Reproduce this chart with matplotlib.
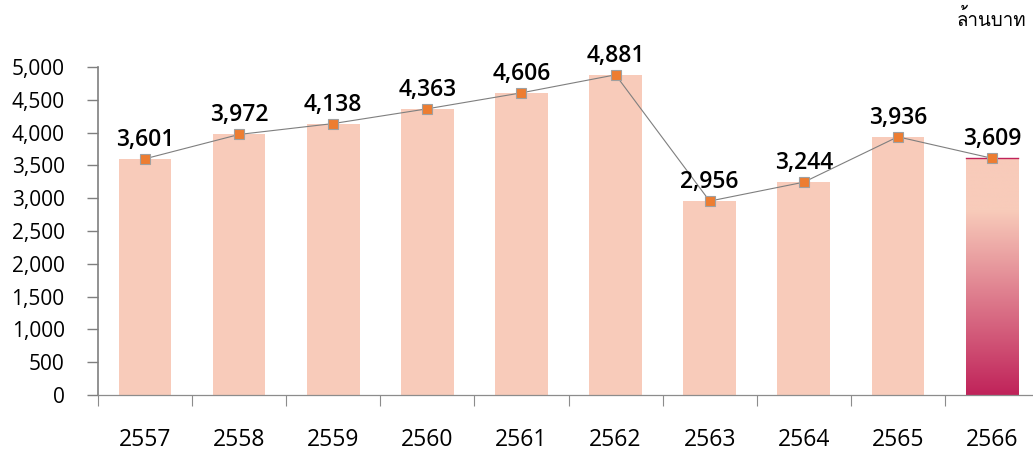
import matplotlib
matplotlib.use("Agg")
import matplotlib.pyplot as plt
import numpy as np
from matplotlib import font_manager
from matplotlib.colors import LinearSegmentedColormap
from matplotlib.ft2font import FT2Font
from matplotlib.ticker import FuncFormatter, FixedLocator

years = ["2557", "2558", "2559", "2560", "2561", "2562", "2563", "2564", "2565", "2566"]
values = [3601, 3972, 4138, 4363, 4606, 4881, 2956, 3244, 3936, 3609]
unit_label = "ล้านบาท"

BAR = "#F8CBBA"
DEEP = "#C0235A"


def thai_family():
    """First installed font that has Thai glyphs."""
    for f in font_manager.fontManager.ttflist:
        try:
            if 0x0E25 in FT2Font(f.fname).get_charmap():
                return f.name
        except Exception:
            continue
    return "DejaVu Sans"


plt.rcParams["font.family"] = ["Open Sans", "DejaVu Sans"]

fig = plt.figure(figsize=(10.33, 4.54), dpi=100)
ax = fig.add_axes([98 / 1033, 59 / 454, 941 / 1033, 328 / 454])

x = np.arange(len(years))
bars = ax.bar(x, values, width=0.56, color=BAR, zorder=1)

# gradient on the last bar
last = bars[-1]
cmap = LinearSegmentedColormap.from_list("g", [(0, DEEP), (0.78, BAR), (1, BAR)])
bx, bw, bh = last.get_x(), last.get_width(), last.get_height()
img = ax.imshow(np.linspace(0, 1, 256).reshape(-1, 1), cmap=cmap, origin="lower",
                extent=[bx, bx + bw, 0, bh], aspect="auto", zorder=1.5)
img.set_clip_path(last)
ax.plot([bx, bx + bw], [bh, bh], color=DEEP, lw=1, zorder=2)

ax.plot(x, values, color="#7F7F7F", lw=0.8, zorder=3)
ax.plot(x, values, ls="none", marker="s", ms=7, mfc="#ED7D31", mec="#A0A0A0", mew=0.8, zorder=4)

for xi, v in zip(x, values):
    ax.annotate(f"{v:,}", (xi, v), xytext=(0, 5), textcoords="offset points",
                ha="center", va="bottom", fontsize=16.5, fontweight="semibold", clip_on=False)

ax.set_xlim(-0.5, len(years) - 0.5)
ax.set_ylim(0, 5000)
ax.set_yticks(np.arange(0, 5001, 500))
ax.yaxis.set_major_formatter(FuncFormatter(lambda v, p: f"{int(v):,}"))
ax.tick_params(axis="y", labelsize=15, length=8, width=1, color="#7F7F7F", pad=16)

ax.set_xticks(x)
ax.set_xticklabels(years)
ax.tick_params(axis="x", which="major", length=0, labelsize=16.5, pad=24)
ax.xaxis.set_minor_locator(FixedLocator(np.arange(-0.5, len(years), 1.0)))
ax.tick_params(axis="x", which="minor", length=8, width=0.8, color="#8C8C8C", direction="out")
for t in ax.xaxis.get_minorticklines():
    t.set_linestyle((0, (2, 1)))

for s in ["top", "right"]:
    ax.spines[s].set_visible(False)
ax.spines["left"].set_color("#7F7F7F")
ax.spines["left"].set_linewidth(1.2)
ax.spines["bottom"].set_color("#8C8C8C")
ax.spines["bottom"].set_linewidth(0.9)
ax.spines["bottom"].set_linestyle((0, (2, 1)))

fig.text(991 / 1033, 1 - 19 / 454, unit_label, ha="center", va="center",
         fontsize=13.5, family=[thai_family(), "DejaVu Sans"])

fig.savefig("out.png", dpi=100)
